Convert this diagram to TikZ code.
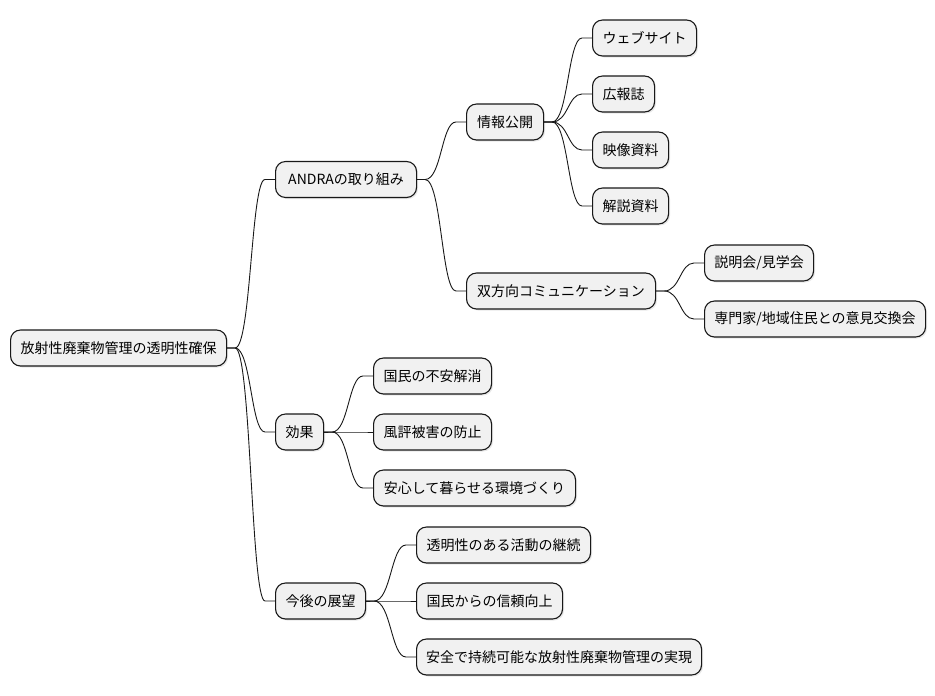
\documentclass[tikz,border=0pt]{standalone}
\usepackage{fontspec}
\setmainfont{Noto Sans CJK JP}
\usetikzlibrary{calc,shadows}
\definecolor{nodefill}{HTML}{F1F1F1}
\definecolor{linecol}{HTML}{181818}
\tikzset{
  mm/.style={draw=linecol, fill=nodefill, rounded corners=10pt, line width=1.1pt,
    minimum height=36pt, inner xsep=4pt, inner ysep=0pt, anchor=west,
    font=\fontsize{14pt}{16pt}\selectfont, text=black,
    drop shadow={opacity=0.18, shadow xshift=1.5pt, shadow yshift=-1.5pt}},
  link/.style={draw=linecol, line width=0.9pt}
}
\newcommand{\mmlink}[2]{%
  \draw[link] let \p1=(#1.east), \p2=(#2.west), \p3=($(#1.east)!0.5!(#2.west)$) in
    (\p1) -- ({\x1+8pt},\y1) .. controls (\x3,\y1) and (\x3,\y2) .. ({\x2-10pt},\y2) -- (\p2);}
\begin{document}
\begin{tikzpicture}[x=1pt,y=-1pt]
\useasboundingbox (0,0) rectangle (935,696);
\node[mm, minimum width=216pt] (root) at (10,348) {放射性廃棄物管理の透明性確保};
\node[mm, minimum width=141pt] (andra) at (275,179.5) {ANDRAの取り組み};
\node[mm, minimum width=77pt] (joho) at (466,122) {情報公開};
\node[mm, minimum width=104pt] (web) at (592,38) {ウェブサイト};
\node[mm, minimum width=62pt] (koho) at (592,94) {広報誌};
\node[mm, minimum width=76pt] (eizo) at (592,150) {映像資料};
\node[mm, minimum width=76pt] (kaisetsu) at (592,206) {解説資料};
\node[mm, minimum width=189pt] (sohoko) at (466,291) {双方向コミュニケーション};
\node[mm, minimum width=109pt] (setsumei) at (704,263) {説明会/見学会};
\node[mm, minimum width=221pt] (senmon) at (704,319) {専門家/地域住民との意見交換会};
\node[mm, minimum width=48pt] (koka) at (275,432) {効果};
\node[mm, minimum width=118pt] (fuan) at (373,376) {国民の不安解消};
\node[mm, minimum width=118pt] (fuhyo) at (373,432) {風評被害の防止};
\node[mm, minimum width=202pt] (anshin) at (373,488) {安心して暮らせる環境づくり};
\node[mm, minimum width=90pt] (kongo) at (275,601) {今後の展望};
\node[mm, minimum width=174pt] (tomei) at (416,545) {透明性のある活動の継続};
\node[mm, minimum width=146pt] (shinrai) at (416,601) {国民からの信頼向上};
\node[mm, minimum width=285pt] (anzen) at (416,657) {安全で持続可能な放射性廃棄物管理の実現};
\mmlink{root}{andra}
\mmlink{root}{koka}
\mmlink{root}{kongo}
\mmlink{andra}{joho}
\mmlink{andra}{sohoko}
\mmlink{joho}{web}
\mmlink{joho}{koho}
\mmlink{joho}{eizo}
\mmlink{joho}{kaisetsu}
\mmlink{sohoko}{setsumei}
\mmlink{sohoko}{senmon}
\mmlink{koka}{fuan}
\mmlink{koka}{fuhyo}
\mmlink{koka}{anshin}
\mmlink{kongo}{tomei}
\mmlink{kongo}{shinrai}
\mmlink{kongo}{anzen}
\end{tikzpicture}
\end{document}
